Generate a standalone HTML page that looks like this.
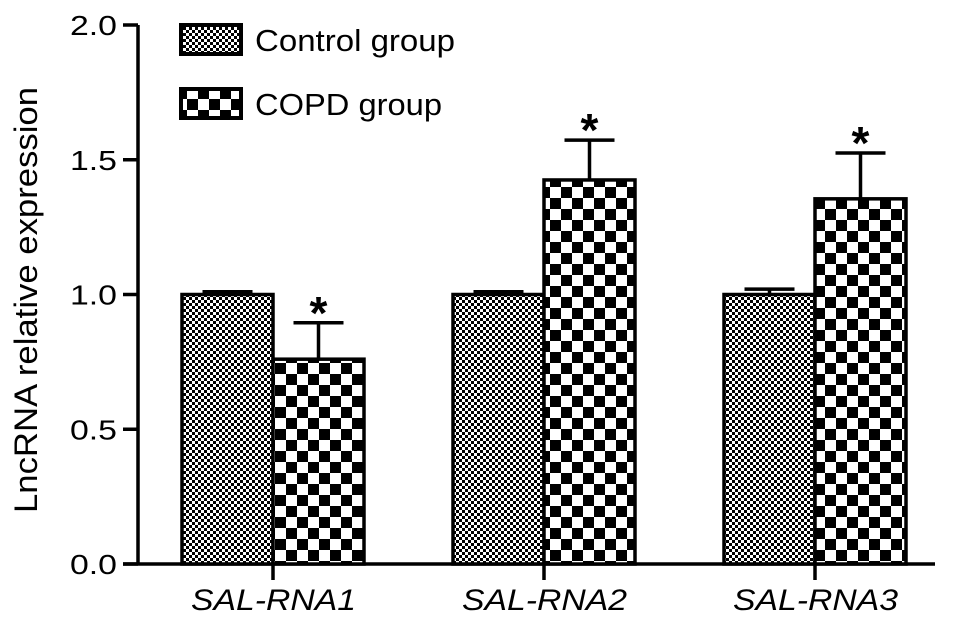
<!DOCTYPE html>
<html><head><meta charset="utf-8"><style>
body{margin:0;background:#fff;}
svg{display:block;font-family:"Liberation Sans",sans-serif;}
</style></head><body>
<svg id="chart" width="969" height="625" viewBox="0 0 969 625">
<defs>
<pattern id="pCtrl" width="6" height="6" patternUnits="userSpaceOnUse">
<rect width="6" height="6" fill="#fff"/><rect x="0" y="0" width="3" height="3" fill="#000"/><rect x="3" y="3" width="3" height="3" fill="#000"/>
</pattern>
<pattern id="pCopd" width="22" height="22" patternUnits="userSpaceOnUse">
<rect width="22" height="22" fill="#fff"/><rect x="0" y="0" width="11" height="11" fill="#000"/><rect x="11" y="11" width="11" height="11" fill="#000"/>
</pattern>
</defs>
<g id="plot"></g>
</svg>
<script>
const categories=["SAL-RNA1","SAL-RNA2","SAL-RNA3"];
const controlValues=[1.0,1.0,1.0];
const controlErrors=[0.01,0.01,0.02];
const copdValues=[0.76,1.425,1.355];
const copdErrors=[0.135,0.148,0.17];
const yTicks=["0.0","0.5","1.0","1.5","2.0"];

const NS="http://www.w3.org/2000/svg";
const g=document.getElementById('plot');
const y0=564,pxPerUnit=269.5,axisX=138;
const yScale=v=>y0-v*pxPerUnit;
const groupCenter=i=>273+i*271;
const barW=91;
function el(t,a,p){const e=document.createElementNS(NS,t);for(const k in a)e.setAttribute(k,a[k]);(p||g).appendChild(e);return e;}

let e;
e=el('line',{x1:axisX,y1:yScale(2),x2:axisX,y2:y0+1.5,stroke:'#000','stroke-width':3.5});


e=el('line',{x1:123,y1:y0,x2:935,y2:y0,stroke:'#000','stroke-width':3.5});


yTicks.forEach(t=>{
  const y=yScale(parseFloat(t));
  e=el('line',{x1:123,y1:y,x2:axisX,y2:y,stroke:'#000','stroke-width':3.5});
  
  
  e=el('text',{x:70,y:y+10,'font-size':28,textLength:47,lengthAdjust:'spacingAndGlyphs'});e.textContent=t;
  
  
});
e=el('text',{transform:'translate(37,513) rotate(-90)','font-size':32,textLength:426,lengthAdjust:'spacingAndGlyphs'});
e.textContent='LncRNA relative expression';



function errBar(cx,v,err,name){
  const top=yScale(v+err);
  e=el('line',{x1:cx,y1:yScale(v),x2:cx,y2:top,stroke:'#000','stroke-width':3.5});
  
  
  e=el('line',{x1:cx-25,y1:top,x2:cx+25,y2:top,stroke:'#000','stroke-width':3.5});
  
  
  return top;
}
categories.forEach((c,i)=>{
  const cx=groupCenter(i);
  const cv=controlValues[i],pv=copdValues[i];
  errBar(cx-barW/2,cv,controlErrors[i],'control-error-'+(i+1));
  const ptop=errBar(cx+barW/2,pv,copdErrors[i],'copd-error-'+(i+1));
  e=el('rect',{x:cx-barW,y:yScale(cv),width:barW,height:y0-yScale(cv),fill:'url(#pCtrl)',stroke:'#000','stroke-width':3.5});
  
  
  e=el('rect',{x:cx,y:yScale(pv),width:barW,height:y0-yScale(pv),fill:'url(#pCopd)',stroke:'#000','stroke-width':3.5});
  
  
  e=el('text',{x:cx+barW/2,y:ptop+6,'font-size':46,'font-weight':'bold','text-anchor':'middle'});e.textContent='*';
  
  
  e=el('line',{x1:cx,y1:y0,x2:cx,y2:y0+16,stroke:'#000','stroke-width':3.5});
  
  
  e=el('text',{x:cx-82,y:610,'font-size':30,'font-style':'italic',textLength:165,lengthAdjust:'spacingAndGlyphs'});e.textContent=c;
  
  
});
[["Control group","url(#pCtrl)",25,200],["COPD group","url(#pCopd)",89,187]].forEach(([t,f,y,len],k)=>{
  e=el('rect',{x:181,y:y,width:60,height:29,fill:f,stroke:'#000','stroke-width':4});
  
  
  e=el('text',{x:255,y:y+26,'font-size':31,textLength:len,lengthAdjust:'spacingAndGlyphs'});e.textContent=t;
  
  
});
</script>
</body></html>
